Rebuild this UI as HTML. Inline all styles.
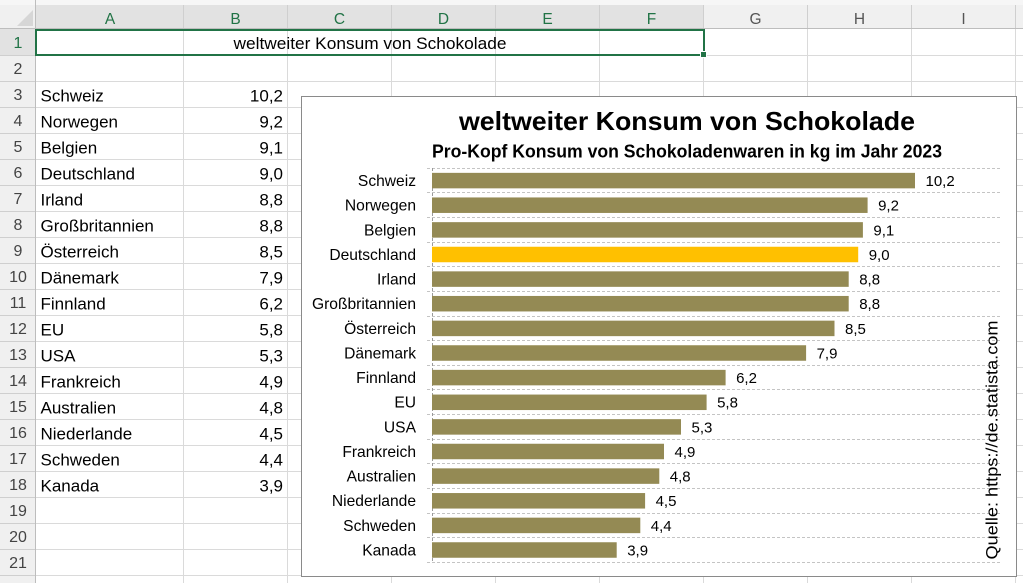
<!DOCTYPE html>
<html><head><meta charset="utf-8"><style>
html,body{margin:0;padding:0;background:#fff;}
svg{display:block;font-family:"Liberation Sans",Arial,sans-serif;}
</style></head><body>
<svg width="1023" height="583" viewBox="0 0 1023 583" xmlns="http://www.w3.org/2000/svg">
<!-- background -->
<rect x="0" y="0" width="1023" height="583" fill="#ffffff"/>
<!-- header strip -->
<rect x="0" y="0" width="1023" height="29" fill="#f0f0f0"/>
<rect x="0" y="0" width="1023" height="5" fill="#f6f6f6"/>
<rect x="36" y="5" width="668" height="24" fill="#e2e2e2"/>
<!-- row header column -->
<rect x="0" y="29" width="36" height="554" fill="#f0f0f0"/>
<rect x="0" y="29" width="36" height="26" fill="#e2e2e2"/>
<!-- corner triangle -->
<polygon points="17,26 33,26 33,10" fill="#d6d6d6"/>

<!-- cell gridlines -->
<g stroke="#dadada" stroke-width="1">
<line x1="183.5" y1="29" x2="183.5" y2="583"/>
<line x1="287.5" y1="29" x2="287.5" y2="583"/>
<line x1="391.5" y1="29" x2="391.5" y2="583"/>
<line x1="495.5" y1="29" x2="495.5" y2="583"/>
<line x1="599.5" y1="29" x2="599.5" y2="583"/>
<line x1="703.5" y1="29" x2="703.5" y2="583"/>
<line x1="807.5" y1="29" x2="807.5" y2="583"/>
<line x1="911.5" y1="29" x2="911.5" y2="583"/>
<line x1="1015.5" y1="29" x2="1015.5" y2="583"/>
</g>
<g stroke="#dadada" stroke-width="1">
<line x1="36" y1="55.5" x2="1023" y2="55.5"/>
<line x1="36" y1="81.5" x2="1023" y2="81.5"/>
<line x1="36" y1="107.5" x2="1023" y2="107.5"/>
<line x1="36" y1="133.5" x2="1023" y2="133.5"/>
<line x1="36" y1="159.5" x2="1023" y2="159.5"/>
<line x1="36" y1="185.5" x2="1023" y2="185.5"/>
<line x1="36" y1="211.5" x2="1023" y2="211.5"/>
<line x1="36" y1="237.5" x2="1023" y2="237.5"/>
<line x1="36" y1="263.5" x2="1023" y2="263.5"/>
<line x1="36" y1="289.5" x2="1023" y2="289.5"/>
<line x1="36" y1="315.5" x2="1023" y2="315.5"/>
<line x1="36" y1="341.5" x2="1023" y2="341.5"/>
<line x1="36" y1="367.5" x2="1023" y2="367.5"/>
<line x1="36" y1="393.5" x2="1023" y2="393.5"/>
<line x1="36" y1="419.5" x2="1023" y2="419.5"/>
<line x1="36" y1="445.5" x2="1023" y2="445.5"/>
<line x1="36" y1="471.5" x2="1023" y2="471.5"/>
<line x1="36" y1="497.5" x2="1023" y2="497.5"/>
<line x1="36" y1="523.5" x2="1023" y2="523.5"/>
<line x1="36" y1="549.5" x2="1023" y2="549.5"/>
<line x1="36" y1="575.5" x2="1023" y2="575.5"/>
</g>
<!-- header separators -->
<g stroke="#cfcfcf" stroke-width="1">
<line x1="183.5" y1="5" x2="183.5" y2="29"/>
<line x1="287.5" y1="5" x2="287.5" y2="29"/>
<line x1="391.5" y1="5" x2="391.5" y2="29"/>
<line x1="495.5" y1="5" x2="495.5" y2="29"/>
<line x1="599.5" y1="5" x2="599.5" y2="29"/>
<line x1="703.5" y1="5" x2="703.5" y2="29"/>
<line x1="807.5" y1="5" x2="807.5" y2="29"/>
<line x1="911.5" y1="5" x2="911.5" y2="29"/>
<line x1="1015.5" y1="5" x2="1015.5" y2="29"/>
<line x1="0" y1="55.5" x2="36" y2="55.5"/>
<line x1="0" y1="81.5" x2="36" y2="81.5"/>
<line x1="0" y1="107.5" x2="36" y2="107.5"/>
<line x1="0" y1="133.5" x2="36" y2="133.5"/>
<line x1="0" y1="159.5" x2="36" y2="159.5"/>
<line x1="0" y1="185.5" x2="36" y2="185.5"/>
<line x1="0" y1="211.5" x2="36" y2="211.5"/>
<line x1="0" y1="237.5" x2="36" y2="237.5"/>
<line x1="0" y1="263.5" x2="36" y2="263.5"/>
<line x1="0" y1="289.5" x2="36" y2="289.5"/>
<line x1="0" y1="315.5" x2="36" y2="315.5"/>
<line x1="0" y1="341.5" x2="36" y2="341.5"/>
<line x1="0" y1="367.5" x2="36" y2="367.5"/>
<line x1="0" y1="393.5" x2="36" y2="393.5"/>
<line x1="0" y1="419.5" x2="36" y2="419.5"/>
<line x1="0" y1="445.5" x2="36" y2="445.5"/>
<line x1="0" y1="471.5" x2="36" y2="471.5"/>
<line x1="0" y1="497.5" x2="36" y2="497.5"/>
<line x1="0" y1="523.5" x2="36" y2="523.5"/>
<line x1="0" y1="549.5" x2="36" y2="549.5"/>
<line x1="0" y1="575.5" x2="36" y2="575.5"/>
</g>
<line x1="0" y1="28.5" x2="1023" y2="28.5" stroke="#bdbdbd"/>
<line x1="35.5" y1="0" x2="35.5" y2="583" stroke="#bdbdbd"/>

<!-- column header letters -->
<g font-size="15.5" text-anchor="middle">
<text x="110" y="24" fill="#217346">A</text>
<text x="235.5" y="24" fill="#217346">B</text>
<text x="339.5" y="24" fill="#217346">C</text>
<text x="443.5" y="24" fill="#217346">D</text>
<text x="547.5" y="24" fill="#217346">E</text>
<text x="651.5" y="24" fill="#217346">F</text>
<text x="755.5" y="24" fill="#555555">G</text>
<text x="859.5" y="24" fill="#555555">H</text>
<text x="963.5" y="24" fill="#555555">I</text>
</g>
<!-- row numbers -->
<g font-size="16" text-anchor="middle" fill="#444444">
<text x="18" y="48" fill="#217346">1</text>
<text x="18" y="74">2</text>
<text x="18" y="100">3</text>
<text x="18" y="126">4</text>
<text x="18" y="152">5</text>
<text x="18" y="178">6</text>
<text x="18" y="204">7</text>
<text x="18" y="230">8</text>
<text x="18" y="256">9</text>
<text x="18" y="282">10</text>
<text x="18" y="308">11</text>
<text x="18" y="334">12</text>
<text x="18" y="360">13</text>
<text x="18" y="386">14</text>
<text x="18" y="412">15</text>
<text x="18" y="438">16</text>
<text x="18" y="464">17</text>
<text x="18" y="490">18</text>
<text x="18" y="516">19</text>
<text x="18" y="542">20</text>
<text x="18" y="568">21</text>
</g>

<!-- row 1 title -->
<text x="370" y="49" font-size="17" text-anchor="middle" fill="#000" textLength="273" lengthAdjust="spacingAndGlyphs">weltweiter Konsum von Schokolade</text>

<!-- data cells -->
<g font-size="17" fill="#000">
<text x="40.5" y="101.7">Schweiz</text>
<text x="40.5" y="127.7">Norwegen</text>
<text x="40.5" y="153.7">Belgien</text>
<text x="40.5" y="179.7">Deutschland</text>
<text x="40.5" y="205.7">Irland</text>
<text x="40.5" y="231.7">Großbritannien</text>
<text x="40.5" y="257.7">Österreich</text>
<text x="40.5" y="283.7">Dänemark</text>
<text x="40.5" y="309.7">Finnland</text>
<text x="40.5" y="335.7">EU</text>
<text x="40.5" y="361.7">USA</text>
<text x="40.5" y="387.7">Frankreich</text>
<text x="40.5" y="413.7">Australien</text>
<text x="40.5" y="439.7">Niederlande</text>
<text x="40.5" y="465.7">Schweden</text>
<text x="40.5" y="491.7">Kanada</text>
</g>
<g font-size="17" fill="#000" text-anchor="end">
<text x="283" y="101.7">10,2</text>
<text x="283" y="127.7">9,2</text>
<text x="283" y="153.7">9,1</text>
<text x="283" y="179.7">9,0</text>
<text x="283" y="205.7">8,8</text>
<text x="283" y="231.7">8,8</text>
<text x="283" y="257.7">8,5</text>
<text x="283" y="283.7">7,9</text>
<text x="283" y="309.7">6,2</text>
<text x="283" y="335.7">5,8</text>
<text x="283" y="361.7">5,3</text>
<text x="283" y="387.7">4,9</text>
<text x="283" y="413.7">4,8</text>
<text x="283" y="439.7">4,5</text>
<text x="283" y="465.7">4,4</text>
<text x="283" y="491.7">3,9</text>
</g>

<!-- selection -->
<rect x="36" y="30" width="668" height="25" fill="none" stroke="#217346" stroke-width="2"/>
<rect x="700.5" y="51.5" width="6" height="6" fill="#217346" stroke="#ffffff" stroke-width="1"/>

<!-- chart -->
<rect x="301.5" y="96.5" width="715" height="480" fill="#ffffff" stroke="#8a8a8a" stroke-width="1"/>
<text x="687" y="130" font-size="26" font-weight="bold" text-anchor="middle" fill="#000" textLength="456" lengthAdjust="spacingAndGlyphs">weltweiter Konsum von Schokolade</text>
<text x="687" y="157.7" font-size="18" font-weight="bold" text-anchor="middle" fill="#000" textLength="510" lengthAdjust="spacingAndGlyphs">Pro-Kopf Konsum von Schokoladenwaren in kg im Jahr 2023</text>

<!-- gridlines -->
<g stroke="#c4c4c4" stroke-width="1" stroke-dasharray="3,2">
<line x1="427" y1="168.5" x2="1001" y2="168.5"/>
<line x1="427" y1="192.5" x2="1001" y2="192.5"/>
<line x1="427" y1="217.5" x2="1001" y2="217.5"/>
<line x1="427" y1="242.5" x2="1001" y2="242.5"/>
<line x1="427" y1="266.5" x2="1001" y2="266.5"/>
<line x1="427" y1="291.5" x2="1001" y2="291.5"/>
<line x1="427" y1="316.5" x2="1001" y2="316.5"/>
<line x1="427" y1="340.5" x2="1001" y2="340.5"/>
<line x1="427" y1="365.5" x2="1001" y2="365.5"/>
<line x1="427" y1="389.5" x2="1001" y2="389.5"/>
<line x1="427" y1="414.5" x2="1001" y2="414.5"/>
<line x1="427" y1="439.5" x2="1001" y2="439.5"/>
<line x1="427" y1="463.5" x2="1001" y2="463.5"/>
<line x1="427" y1="488.5" x2="1001" y2="488.5"/>
<line x1="427" y1="513.5" x2="1001" y2="513.5"/>
<line x1="427" y1="537.5" x2="1001" y2="537.5"/>
<line x1="427" y1="562.5" x2="1001" y2="562.5"/>
</g>
<line x1="432.5" y1="168" x2="432.5" y2="563" stroke="#9a9a9a" stroke-width="1" stroke-dasharray="3,2"/>

<!-- bars -->
<g fill="#948A54">
<rect x="432" y="172.85" width="483.0" height="15.5"/>
<rect x="432" y="197.45" width="435.6" height="15.5"/>
<rect x="432" y="222.15" width="430.9" height="15.5"/>
<rect x="432" y="246.75" width="426.2" height="15.5" fill="#FFC000"/>
<rect x="432" y="271.35" width="416.7" height="15.5"/>
<rect x="432" y="295.95" width="416.7" height="15.5"/>
<rect x="432" y="320.65" width="402.5" height="15.5"/>
<rect x="432" y="345.25" width="374.1" height="15.5"/>
<rect x="432" y="369.85" width="293.6" height="15.5"/>
<rect x="432" y="394.55" width="274.6" height="15.5"/>
<rect x="432" y="419.15" width="249.0" height="15.5"/>
<rect x="432" y="443.75" width="232.0" height="15.5"/>
<rect x="432" y="468.35" width="227.3" height="15.5"/>
<rect x="432" y="493.05" width="213.1" height="15.5"/>
<rect x="432" y="517.65" width="208.3" height="15.5"/>
<rect x="432" y="542.25" width="184.7" height="15.5"/>
</g>

<!-- category labels -->
<g font-size="15.6" fill="#000" text-anchor="end">
<text x="416" y="186.0">Schweiz</text>
<text x="416" y="210.6">Norwegen</text>
<text x="416" y="235.3">Belgien</text>
<text x="416" y="259.9">Deutschland</text>
<text x="416" y="284.5">Irland</text>
<text x="416" y="309.1">Großbritannien</text>
<text x="416" y="333.8">Österreich</text>
<text x="416" y="358.4">Dänemark</text>
<text x="416" y="383.0">Finnland</text>
<text x="416" y="407.7">EU</text>
<text x="416" y="432.3">USA</text>
<text x="416" y="456.9">Frankreich</text>
<text x="416" y="481.5">Australien</text>
<text x="416" y="506.2">Niederlande</text>
<text x="416" y="530.8">Schweden</text>
<text x="416" y="555.4">Kanada</text>
</g>

<!-- value labels -->
<g font-size="15" fill="#000">
<text x="925.5" y="186.0">10,2</text>
<text x="878.1" y="210.6">9,2</text>
<text x="873.4" y="235.3">9,1</text>
<text x="868.7" y="259.9">9,0</text>
<text x="859.2" y="284.5">8,8</text>
<text x="859.2" y="309.1">8,8</text>
<text x="845.0" y="333.8">8,5</text>
<text x="816.6" y="358.4">7,9</text>
<text x="736.1" y="383.0">6,2</text>
<text x="717.1" y="407.7">5,8</text>
<text x="691.5" y="432.3">5,3</text>
<text x="674.5" y="456.9">4,9</text>
<text x="669.8" y="481.5">4,8</text>
<text x="655.6" y="506.2">4,5</text>
<text x="650.8" y="530.8">4,4</text>
<text x="627.2" y="555.4">3,9</text>
</g>

<!-- source -->
<text transform="translate(997.5,559.5) rotate(-90)" font-size="17" fill="#000" textLength="239" lengthAdjust="spacingAndGlyphs">Quelle: https://de.statista.com</text>
</svg>
</body></html>
